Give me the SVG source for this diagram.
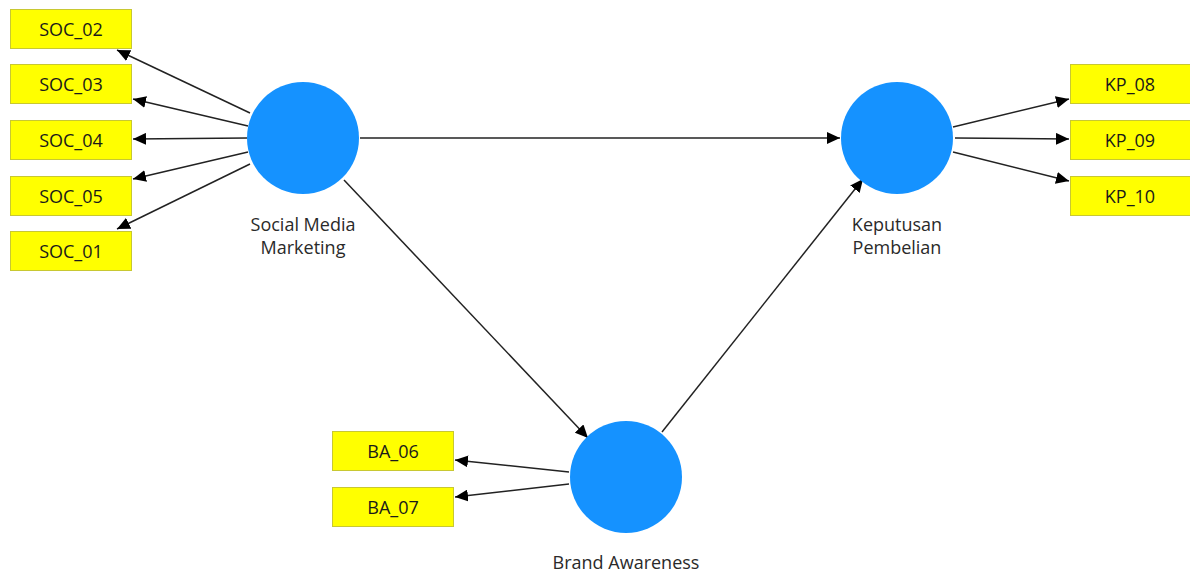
<svg xmlns="http://www.w3.org/2000/svg" width="1190" height="574" viewBox="0 0 1190 574">
<style>
.box{fill:#ffff00;stroke:#c8c832;stroke-width:1}
.bt{font-family:"Open Sans","Noto Sans",sans-serif;font-size:18px;fill:#1a1a1a;text-anchor:middle}
.lv{fill:#1592ff}
.lt{font-family:"Open Sans","Noto Sans",sans-serif;font-size:18px;fill:#2a2a2a;text-anchor:middle}
.c{stroke:#222;stroke-width:1.5;fill:none;marker-end:url(#ah)}
</style>
<defs>
<marker id="ah" markerUnits="userSpaceOnUse" markerWidth="14" markerHeight="12" refX="13" refY="6" orient="auto">
<path d="M0,0 L13,6 L0,12 Z" fill="#000"/>
</marker>
</defs>
<rect width="1190" height="574" fill="#fff"/>
<g id="connectors">
<line class="c" x1="250" y1="113" x2="117" y2="50"/>
<line class="c" x1="248" y1="126" x2="133" y2="99"/>
<line class="c" x1="247" y1="138" x2="133" y2="139"/>
<line class="c" x1="248" y1="152" x2="133" y2="179"/>
<line class="c" x1="250" y1="164" x2="117" y2="229"/>
<line class="c" x1="360" y1="138" x2="840" y2="138"/>
<line class="c" x1="344" y1="180" x2="588" y2="438"/>
<line class="c" x1="662" y1="432" x2="863" y2="179"/>
<line class="c" x1="953" y1="127" x2="1069" y2="99"/>
<line class="c" x1="955" y1="138" x2="1069" y2="139"/>
<line class="c" x1="953" y1="152" x2="1069" y2="181"/>
<line class="c" x1="569" y1="472" x2="455" y2="460"/>
<line class="c" x1="569" y1="484" x2="455" y2="497"/>
</g>
<g id="SOC_02"><rect class="box" x="10.5" y="9.5" width="121" height="39"/><text class="bt" x="71" y="36">SOC_02</text></g>
<g id="SOC_03"><rect class="box" x="10.5" y="64.5" width="121" height="39"/><text class="bt" x="71" y="91">SOC_03</text></g>
<g id="SOC_04"><rect class="box" x="10.5" y="120.5" width="121" height="39"/><text class="bt" x="71" y="147">SOC_04</text></g>
<g id="SOC_05"><rect class="box" x="10.5" y="176.5" width="121" height="39"/><text class="bt" x="71" y="203">SOC_05</text></g>
<g id="SOC_01"><rect class="box" x="10.5" y="231.5" width="121" height="39"/><text class="bt" x="71" y="258">SOC_01</text></g>
<g id="KP_08"><rect class="box" x="1070.5" y="64.5" width="120" height="39"/><text class="bt" x="1130" y="91">KP_08</text></g>
<g id="KP_09"><rect class="box" x="1070.5" y="120.5" width="120" height="39"/><text class="bt" x="1130" y="147">KP_09</text></g>
<g id="KP_10"><rect class="box" x="1070.5" y="176.5" width="120" height="39"/><text class="bt" x="1130" y="203">KP_10</text></g>
<g id="BA_06"><rect class="box" x="332.5" y="431.5" width="121" height="39"/><text class="bt" x="393" y="458">BA_06</text></g>
<g id="BA_07"><rect class="box" x="332.5" y="487.5" width="121" height="39"/><text class="bt" x="393" y="514">BA_07</text></g>
<g id="SocialMediaMarketing"><circle class="lv" cx="303" cy="138" r="56"/><text class="lt" x="303" y="231">Social Media</text><text class="lt" x="303" y="254">Marketing</text></g>
<g id="KeputusanPembelian"><circle class="lv" cx="897" cy="138" r="56"/><text class="lt" x="897" y="231">Keputusan</text><text class="lt" x="897" y="254">Pembelian</text></g>
<g id="BrandAwareness"><circle class="lv" cx="626" cy="477" r="56"/><text class="lt" x="626" y="569">Brand Awareness</text></g>
</svg>
